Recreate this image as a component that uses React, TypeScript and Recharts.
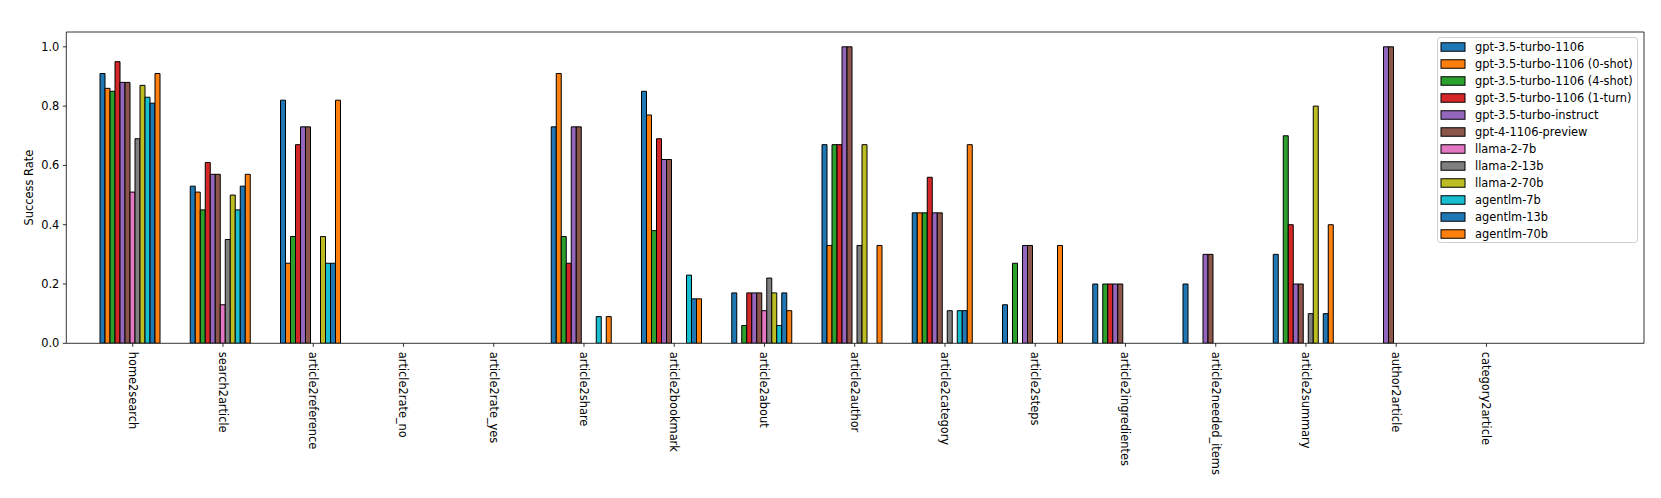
import { BarChart, Bar, XAxis, YAxis, Legend, ReferenceLine } from 'recharts'

const categories = [
  'home2search', 'search2article', 'article2reference', 'article2rate_no', 'article2rate_yes',
  'article2share', 'article2bookmark', 'article2about', 'article2author', 'article2category',
  'article2steps', 'article2ingredientes', 'article2needed_items', 'article2summary',
  'author2article', 'category2article',
]

const gpt35 = [0.91, 0.53, 0.82, 0, 0, 0.73, 0.85, 0.17, 0.67, 0.44, 0.13, 0.2, 0.2, 0.3, 0, 0]
const gpt35ZeroShot = [0.86, 0.51, 0.27, 0, 0, 0.91, 0.77, 0, 0.33, 0.44, 0, 0, 0, 0, 0, 0]
const gpt35FourShot = [0.85, 0.45, 0.36, 0, 0, 0.36, 0.38, 0.06, 0.67, 0.44, 0.27, 0.2, 0, 0.7, 0, 0]
const gpt35OneTurn = [0.95, 0.61, 0.67, 0, 0, 0.27, 0.69, 0.17, 0.67, 0.56, 0, 0.2, 0, 0.4, 0, 0]
const gpt35Instruct = [0.88, 0.57, 0.73, 0, 0, 0.73, 0.62, 0.17, 1.0, 0.44, 0.33, 0.2, 0.3, 0.2, 1.0, 0]
const gpt4 = [0.88, 0.57, 0.73, 0, 0, 0.73, 0.62, 0.17, 1.0, 0.44, 0.33, 0.2, 0.3, 0.2, 1.0, 0]
const llama7 = [0.51, 0.13, 0, 0, 0, 0, 0, 0.11, 0, 0, 0, 0, 0, 0, 0, 0]
const llama13 = [0.69, 0.35, 0, 0, 0, 0, 0, 0.22, 0.33, 0.11, 0, 0, 0, 0.1, 0, 0]
const llama70 = [0.87, 0.5, 0.36, 0, 0, 0, 0, 0.17, 0.67, 0, 0, 0, 0, 0.8, 0, 0]
const agent7 = [0.83, 0.45, 0.27, 0, 0, 0.09, 0.23, 0.06, 0, 0.11, 0, 0, 0, 0, 0, 0]
const agent13 = [0.81, 0.53, 0.27, 0, 0, 0, 0.15, 0.17, 0, 0.11, 0, 0, 0, 0.1, 0, 0]
const agent70 = [0.91, 0.57, 0.82, 0, 0, 0.09, 0.15, 0.11, 0.33, 0.67, 0.33, 0, 0, 0.4, 0, 0]

const yTicks = [0, 0.2, 0.4, 0.6, 0.8, 1.0]

const series = [
  { key: 's0', name: 'gpt-3.5-turbo-1106', values: gpt35, color: '#1f77b4' },
  { key: 's1', name: 'gpt-3.5-turbo-1106 (0-shot)', values: gpt35ZeroShot, color: '#ff7f0e' },
  { key: 's2', name: 'gpt-3.5-turbo-1106 (4-shot)', values: gpt35FourShot, color: '#2ca02c' },
  { key: 's3', name: 'gpt-3.5-turbo-1106 (1-turn)', values: gpt35OneTurn, color: '#d62728' },
  { key: 's4', name: 'gpt-3.5-turbo-instruct', values: gpt35Instruct, color: '#9467bd' },
  { key: 's5', name: 'gpt-4-1106-preview', values: gpt4, color: '#8c564b' },
  { key: 's6', name: 'llama-2-7b', values: llama7, color: '#e377c2' },
  { key: 's7', name: 'llama-2-13b', values: llama13, color: '#7f7f7f' },
  { key: 's8', name: 'llama-2-70b', values: llama70, color: '#bcbd22' },
  { key: 's9', name: 'agentlm-7b', values: agent7, color: '#17becf' },
  { key: 's10', name: 'agentlm-13b', values: agent13, color: '#1f77b4' },
  { key: 's11', name: 'agentlm-70b', values: agent70, color: '#ff7f0e' },
]

const data = categories.map((name, i) => {
  const row: Record<string, string | number> = { name }
  series.forEach((s) => { row[s.key] = s.values[i] })
  return row
})

const FONT = "'DejaVu Sans', sans-serif"
const FS = 11.4
const CHART_W = 1645
const CHART_H = 482
const MARGIN_TOP = 24
const XAXIS_H = 146.7
const PLOT_H = CHART_H - MARGIN_TOP - XAXIS_H

const XTick = (props: any) => {
  const { x, y, payload } = props
  return (
    <text x={x} y={y} transform={`rotate(90, ${x}, ${y})`} textAnchor="start"
      dominantBaseline="central" fontSize={FS} fill="#000" style={{ fontFamily: FONT }}>
      {payload.value}
    </text>
  )
}

// top spine + right spine, drawn from the top reference line
const FrameShape = (props: any) => {
  const { x1, x2, y1 } = props
  const right = Math.max(x1, x2)
  const left = Math.min(x1, x2)
  return (
    <path d={`M${left},${y1} L${right},${y1} L${right},${y1 + PLOT_H}`}
      fill="none" stroke="#000" strokeWidth={0.8} />
  )
}

const LegendBox = () => (
  <svg width={201} height={206} style={{ display: 'block', fontFamily: FONT }}>
    <rect x={0.5} y={0.5} width={200} height={205} rx={3} fill="#fff" fillOpacity={0.8}
      stroke="#d0d0d0" strokeWidth={1} />
    {series.map((s, i) => {
      const cy = 10 + i * 17
      return (
        <g key={s.key}>
          <rect x={4} y={cy - 4.25} width={24} height={8.5} fill={s.color} stroke="#000" strokeWidth={1} />
          <text x={38} y={cy} dominantBaseline="central" fontSize={FS} fill="#000"
            style={{ fontFamily: FONT }}>{s.name}</text>
        </g>
      )
    })}
  </svg>
)

export default function App() {
  return (
    <div style={{ fontFamily: FONT }}>
      <BarChart width={CHART_W} height={CHART_H} data={data}
        margin={{ top: MARGIN_TOP, right: 9, left: 0, bottom: 0 }}
        barCategoryGap={12.4} barGap={0}>
        <XAxis dataKey="name" interval={0} height={XAXIS_H}
          padding={{ left: 21.3, right: 112.4 }}
          axisLine={{ stroke: '#000', strokeWidth: 0.8 }}
          tickLine={{ stroke: '#000', strokeWidth: 0.8 }}
          tickSize={3.5} tickMargin={5} tick={<XTick />} />
        <YAxis width={58.3} domain={[0, 1.05]} ticks={yTicks} allowDataOverflow
          tickFormatter={(v: number) => v.toFixed(1)}
          axisLine={{ stroke: '#000', strokeWidth: 0.8 }}
          tickLine={{ stroke: '#000', strokeWidth: 0.8 }}
          tickSize={3.5} tickMargin={3.5}
          tick={{ fill: '#000', fontSize: FS, style: { fontFamily: FONT } }}
          label={{
            content: (p: any) => {
              const vb = p.viewBox
              const cx = vb.x + 21
              const cy = vb.y + vb.height / 2
              return (
                <text x={cx} y={cy} transform={`rotate(-90, ${cx}, ${cy})`} textAnchor="middle"
                  dominantBaseline="central" fontSize={FS} fill="#000" style={{ fontFamily: FONT }}>
                  Success Rate
                </text>
              )
            },
          }} />
        <Legend layout="horizontal" verticalAlign="middle" align="center"
          wrapperStyle={{ top: 29, left: 1429, width: 201, height: 206 }}
          content={<LegendBox />} />
        {series.map((s) => (
          <Bar key={s.key} dataKey={s.key} name={s.name} fill={s.color}
            stroke="#000" strokeWidth={1} isAnimationActive={false} />
        ))}
        <ReferenceLine y={1.05} ifOverflow="visible" shape={<FrameShape />} />
      </BarChart>
    </div>
  )
}
